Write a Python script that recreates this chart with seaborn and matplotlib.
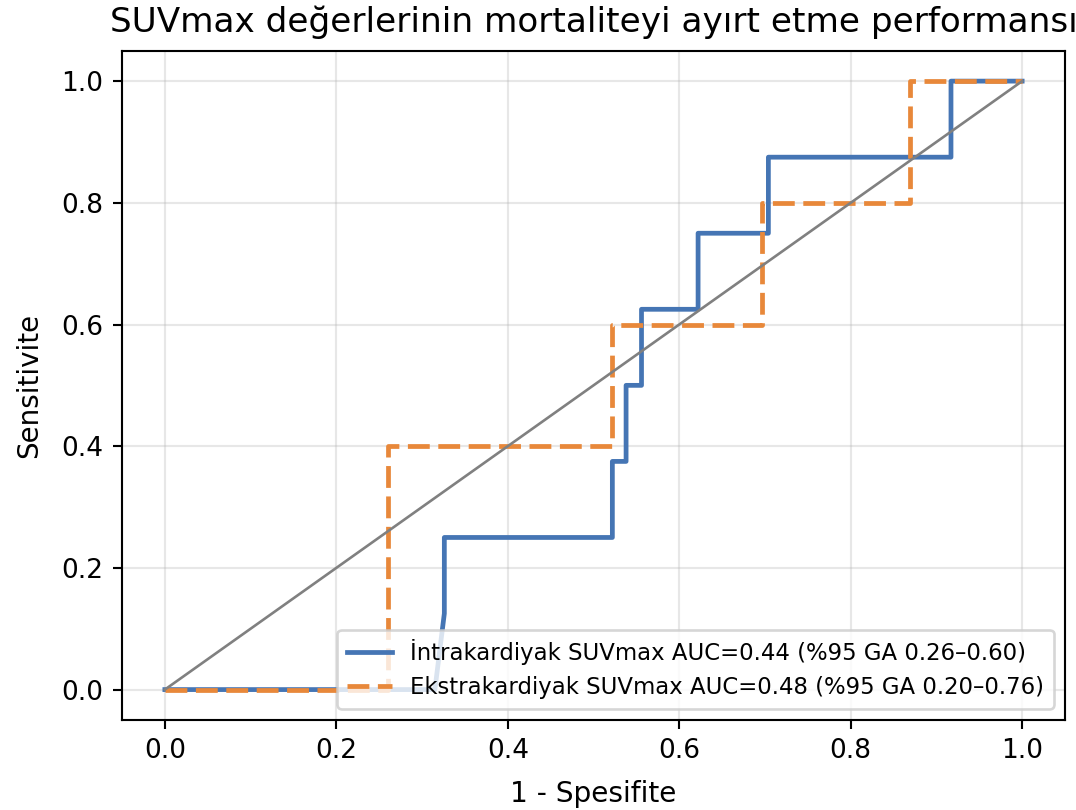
import numpy as np
import pandas as pd
import matplotlib
matplotlib.use("Agg")
import matplotlib.pyplot as plt
import seaborn as sns

# ROC curve points
intra_fpr = [0.0, 0.315, 0.326, 0.326, 0.522, 0.522, 0.538, 0.538, 0.556, 0.556, 0.622, 0.622, 0.704, 0.704, 0.917, 0.917, 1.0]
intra_tpr = [0.0, 0.0, 0.125, 0.25, 0.25, 0.375, 0.375, 0.5, 0.5, 0.625, 0.625, 0.75, 0.75, 0.875, 0.875, 1.0, 1.0]

ekstra_fpr = [0.0, 0.260, 0.260, 0.522, 0.522, 0.696, 0.696, 0.869, 0.869, 1.0]
ekstra_tpr = [0.0, 0.0, 0.4, 0.4, 0.6, 0.6, 0.8, 0.8, 1.0, 1.0]

chance = [0.0, 1.0]

intra_label = "İntrakardiyak SUVmax AUC=0.44 (%95 GA 0.26–0.60)"
ekstra_label = "Ekstrakardiyak SUVmax AUC=0.48 (%95 GA 0.20–0.76)"
title = "SUVmax değerlerinin mortaliteyi ayırt etme performansı"
xlabel = "1 - Spesifite"
ylabel = "Sensitivite"
ticks = [0.0, 0.2, 0.4, 0.6, 0.8, 1.0]

plt.rcParams['font.family'] = ['DejaVu Sans']

DPI = 190
fig = plt.figure(figsize=(1076 / DPI, 810 / DPI), dpi=DPI)
ax = fig.add_axes([122/1076, 1 - 720/810, (1065 - 122)/1076, (720 - 50.7)/810])

blue = "#4575b4"
orange = "#e8883a"
df_i = pd.DataFrame({"fpr": intra_fpr, "tpr": intra_tpr})
df_e = pd.DataFrame({"fpr": ekstra_fpr, "tpr": ekstra_tpr})

sns.lineplot(data=df_i, x="fpr", y="tpr", sort=False, estimator=None, ax=ax,
             color=blue, lw=1.8, label=intra_label)
sns.lineplot(data=df_e, x="fpr", y="tpr", sort=False, estimator=None, ax=ax,
             color=orange, lw=1.8, linestyle=(0, (4.6, 1.8)), label=ekstra_label)
ax.plot(chance, chance, color="gray", lw=1.0)

ax.set_xlim(-0.05, 1.05)
ax.set_ylim(-0.05, 1.05)
ax.set_xticks(ticks)
ax.set_yticks(ticks)
ax.grid(True, alpha=0.3)
ax.set_xlabel(xlabel, fontsize=10.6, labelpad=6)
ax.set_ylabel(ylabel, fontsize=10.5, labelpad=7)
ax.set_title(title, fontsize=13, pad=7)
ax.legend(loc="lower right", fontsize=8.65)

fig.savefig("out.png", dpi=DPI)
